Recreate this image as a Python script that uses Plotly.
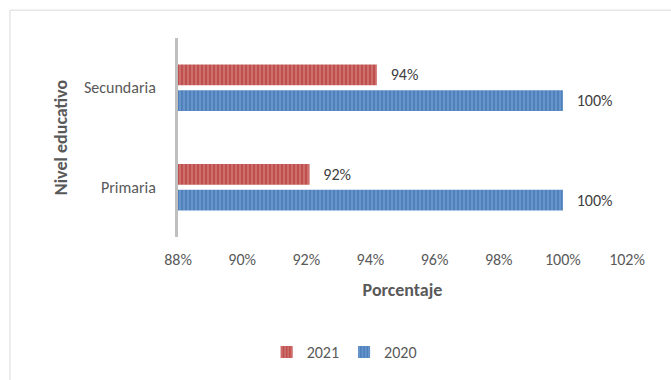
import plotly.graph_objects as go

categories = ["Primaria", "Secundaria"]
values_2020 = [100.0, 100.0]
values_2021 = [92.1, 94.2]
x_ticks = [88, 90, 92, 94, 96, 98, 100, 102]

FONT = "Carlito, Calibri, Lato, sans-serif"
TXT = "#595959"

fig = go.Figure()
fig.add_trace(go.Bar(
    y=categories, x=values_2020, name="2020", orientation="h",
    marker=dict(color="#4F81BD",
                pattern=dict(shape="|", size=4, solidity=0.35,
                             fgcolor="#93B6E0", bgcolor="#4F81BD"),
                line=dict(width=0)),
    text=[f"   {v:.0f}%" for v in values_2020], textposition="outside",
    textfont=dict(family=FONT, size=16, color="#404040"),
    cliponaxis=False,
))
fig.add_trace(go.Bar(
    y=categories, x=values_2021, name="2021", orientation="h",
    marker=dict(color="#C0504D",
                pattern=dict(shape="|", size=4, solidity=0.35,
                             fgcolor="#E6A8A6", bgcolor="#C0504D"),
                line=dict(width=0)),
    text=[f"   {v:.0f}%" for v in values_2021], textposition="outside",
    textfont=dict(family=FONT, size=16, color="#404040"),
    cliponaxis=False,
))

fig.update_layout(
    width=671, height=380,
    margin=dict(l=178, r=44, t=38, b=142),
    paper_bgcolor="white", plot_bgcolor="white",
    barmode="group", bargap=0.48, bargroupgap=0.2,
    font=dict(family=FONT, size=16, color=TXT),
    showlegend=True,
    legend=dict(orientation="h", traceorder="reversed",
                x=0.37, xanchor="center", y=-0.57, yanchor="middle",
                font=dict(family=FONT, size=16, color=TXT),
                itemwidth=30, tracegroupgap=0),
    xaxis=dict(range=[88, 102], tickvals=x_ticks,
               ticktext=[f"{t}%" for t in x_ticks],
               showgrid=False, zeroline=False, showline=False,
               ticks="", ticklabelstandoff=11,
               tickfont=dict(family=FONT, size=16, color=TXT),
               title=dict(text="<b>Porcentaje</b>", standoff=15,
                          font=dict(family=FONT, size=18, color=TXT))),
    yaxis=dict(range=[-0.5, 1.5], showgrid=False, zeroline=False,
               showline=True, linecolor="#BFBFBF", linewidth=3,
               ticks="", ticklabelstandoff=16,
               tickfont=dict(family=FONT, size=16, color=TXT),
               title=dict(text="<b>Nivel educativo</b>", standoff=12,
                          font=dict(family=FONT, size=18, color=TXT))),
    shapes=[dict(type="rect", xref="paper", yref="paper",
                 x0=(10 - 178) / 449, x1=1.2, y0=-1.0, y1=1 + (38 - 10) / 200,
                 line=dict(color="#D9D9D9", width=1), fillcolor="rgba(0,0,0,0)",
                 layer="below")],
)

fig.write_html("out.html")
